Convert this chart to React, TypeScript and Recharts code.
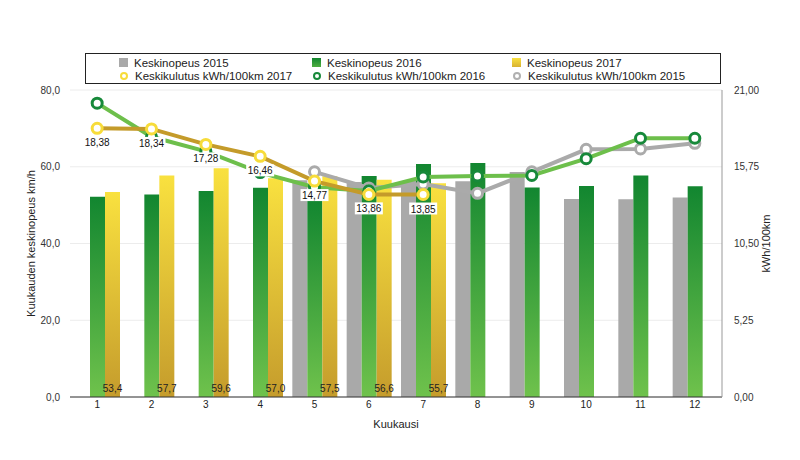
import React from 'react';
import { ComposedChart, Bar, Line, XAxis, YAxis, CartesianGrid, LabelList } from 'recharts';

const months = ['1', '2', '3', '4', '5', '6', '7', '8', '9', '10', '11', '12'];

// Keskinopeus km/h
const speed2015 = [null, null, null, null, 56.5, 56.0, 56.3, 56.2, 58.6, 51.6, 51.5, 52.0];
const speed2016 = [52.2, 52.8, 53.7, 54.5, 51.5, 57.6, 60.7, 61.0, 54.6, 55.0, 57.7, 54.9];
const speed2017 = [53.4, 57.7, 59.6, 57.0, 57.5, 56.6, 55.7, null, null, null, null, null];

// Keskikulutus kWh/100km
const cons2015 = [null, null, null, null, 15.4, 14.3, 14.57, 13.93, 15.4, 16.94, 16.97, 17.35];
const cons2016 = [20.1, 17.8, 16.8, 15.35, 14.35, 14.1, 15.05, 15.12, 15.15, 16.3, 17.7, 17.7];
const cons2017 = [18.38, 18.34, 17.28, 16.46, 14.77, 13.86, 13.85, null, null, null, null, null];

const leftTicks = [0, 20, 40, 60, 80];
const rightTicks = [0, 5.25, 10.5, 15.75, 21];

const legendItems = [
  { name: 'Keskinopeus 2015', kind: 'bar', color: '#a9a9a9' },
  { name: 'Keskinopeus 2016', kind: 'bar', color: 'linear-gradient(#128630, #4fae40)' },
  { name: 'Keskinopeus 2017', kind: 'bar', color: 'linear-gradient(#f9e13f, #d8b232)' },
  { name: 'Keskikulutus kWh/100km 2017', kind: 'dot', color: '#f7dc3a' },
  { name: 'Keskikulutus kWh/100km 2016', kind: 'dot', color: '#17893a' },
  { name: 'Keskikulutus kWh/100km 2015', kind: 'dot', color: '#b0b0b0' },
];

const data = months.map((m, i) => ({
  month: m,
  s2015: speed2015[i],
  s2016: speed2016[i],
  s2017: speed2017[i],
  c2015: cons2015[i],
  c2016: cons2016[i],
  c2017: cons2017[i],
}));

const font = '"Liberation Sans", Arial, Helvetica, sans-serif';
const comma = (v: number, d: number) => v.toFixed(d).replace('.', ',');

const BarValue = (props: any) => {
  const { x, y, width, height, value } = props;
  if (value == null) return null;
  return (
    <text x={x + width / 2} y={y + height - 5} textAnchor="middle" fontSize={10} fill="#222" fontFamily={font}>
      {comma(value, 1)}
    </text>
  );
};

const LineValue = (props: any) => {
  const { x, y, value } = props;
  if (value == null) return null;
  return (
    <g>
      <rect x={x - 14} y={y + 8} width={28} height={12} fill="#fff" />
      <text x={x} y={y + 18} textAnchor="middle" fontSize={10} fill="#111" fontFamily={font}>
        {comma(value, 2)}
      </text>
    </g>
  );
};

function Legend() {
  return (
    <div
      style={{
        position: 'absolute', left: 85, top: 53, width: 634, height: 29,
        border: '1px solid #222', background: '#fff', fontFamily: font, fontSize: 11.5, color: '#222',
      }}
    >
      {legendItems.map((it, i) => {
        const col = i % 3;
        const row = Math.floor(i / 3);
        const left = [33, 226, 426][col];
        return (
          <div key={it.name} style={{ position: 'absolute', left, top: 2 + row * 13, height: 13, display: 'flex', alignItems: 'center', whiteSpace: 'nowrap' }}>
            {it.kind === 'bar' ? (
              <span style={{ display: 'inline-block', width: 9, height: 9, background: it.color, marginRight: 6 }} />
            ) : (
              <span style={{ display: 'inline-block', width: 4, height: 4, borderRadius: 4, border: `2px solid ${it.color}`, background: '#fff', marginRight: 7, marginLeft: 1 }} />
            )}
            {it.name}
          </div>
        );
      })}
    </div>
  );
}

export default function App() {
  return (
    <div style={{ position: 'absolute', left: 0, top: 0, width: 800, height: 460, background: '#fff' }}>
      <ComposedChart
        width={800}
        height={460}
        data={data}
        margin={{ top: 90, right: 0, bottom: 23, left: 0 }}
        barSize={15}
        barGap={0}
        style={{ fontFamily: font }}
      >
        <defs>
          <linearGradient id="g2016" x1="0" y1="0" x2="0" y2="1">
            <stop offset="0%" stopColor="#128630" />
            <stop offset="100%" stopColor="#6fc24c" />
          </linearGradient>
          <linearGradient id="g2017" x1="0" y1="0" x2="0" y2="1">
            <stop offset="0%" stopColor="#f9e13f" />
            <stop offset="100%" stopColor="#c59c2c" />
          </linearGradient>
        </defs>
        <CartesianGrid yAxisId="left" vertical={false} stroke="#ececec" />
        <XAxis
          dataKey="month"
          axisLine={{ stroke: '#333' }}
          tickLine={false}
          tickSize={0}
          tickMargin={4}
          height={40}
          tick={{ fill: '#222', fontSize: 10 }}
          label={{ value: 'Kuukausi', position: 'insideBottom', offset: 9, fill: '#222', fontSize: 11 }}
        />
        <YAxis
          yAxisId="left"
          orientation="left"
          width={70}
          domain={[0, 80]}
          ticks={leftTicks}
          axisLine={false}
          tickLine={false}
          tickMargin={4}
          tickFormatter={(v: number) => comma(v, 1)}
          tick={{ fill: '#333', fontSize: 10 }}
          label={{ value: 'Kuukauden keskinopeus km/h', angle: -90, position: 'insideLeft', offset: 31, style: { textAnchor: 'middle' }, fill: '#222', fontSize: 11 }}
        />
        <YAxis
          yAxisId="right"
          orientation="right"
          width={78}
          domain={[0, 21]}
          ticks={rightTicks}
          axisLine={{ stroke: '#999' }}
          tickLine={false}
          tickMargin={6}
          tickFormatter={(v: number) => comma(v, 2)}
          tick={{ fill: '#333', fontSize: 10 }}
          label={{ value: 'kWh/100km', angle: -90, position: 'insideRight', offset: 34, style: { textAnchor: 'middle' }, fill: '#222', fontSize: 11 }}
        />
        <Bar yAxisId="left" dataKey="s2015" fill="#a9a9a9" isAnimationActive={false} />
        <Bar yAxisId="left" dataKey="s2016" fill="url(#g2016)" isAnimationActive={false} />
        <Bar yAxisId="left" dataKey="s2017" fill="url(#g2017)" isAnimationActive={false}>
          <LabelList dataKey="s2017" content={BarValue} />
        </Bar>
        <Line
          yAxisId="right"
          dataKey="c2015"
          stroke="#aaaaaa"
          strokeWidth={4}
          dot={{ r: 5, strokeWidth: 3, fill: '#fff', stroke: '#aaaaaa' }}
          activeDot={false}
          isAnimationActive={false}
        />
        <Line
          yAxisId="right"
          dataKey="c2016"
          stroke="#6dbf4b"
          strokeWidth={4}
          dot={{ r: 5, strokeWidth: 3, fill: '#fff', stroke: '#17893a' }}
          activeDot={false}
          isAnimationActive={false}
        />
        <Line
          yAxisId="right"
          dataKey="c2017"
          stroke="#c49b2a"
          strokeWidth={4}
          dot={{ r: 5, strokeWidth: 3, fill: '#fff', stroke: '#f7dc3a' }}
          activeDot={false}
          isAnimationActive={false}
        >
          <LabelList dataKey="c2017" content={LineValue} />
        </Line>
      </ComposedChart>
      <Legend />
    </div>
  );
}
